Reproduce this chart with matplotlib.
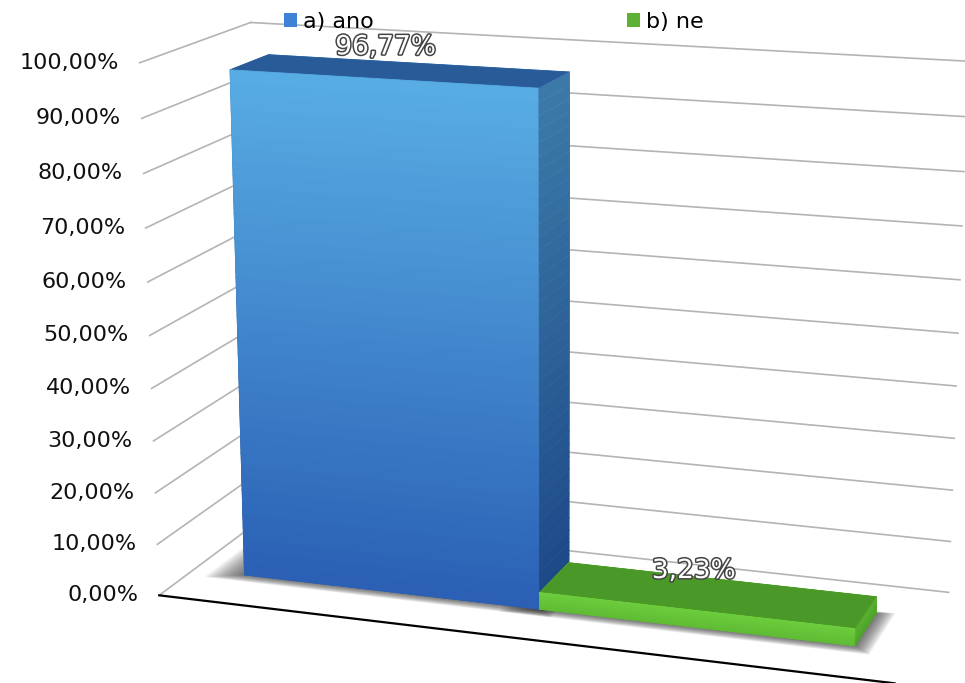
import numpy as np
import matplotlib
matplotlib.use("Agg")
import matplotlib.pyplot as plt
from matplotlib.patches import Patch
from matplotlib.colors import to_rgb
import matplotlib.patheffects as pe
from mpl_toolkits.mplot3d import proj3d

categories = ["a) ano", "b) ne"]
values = [96.77, 3.23]
value_labels = ["96,77%", "3,23%"]
ticks = [0, 10, 20, 30, 40, 50, 60, 70, 80, 90, 100]
tick_labels = ["0,00%", "10,00%", "20,00%", "30,00%", "40,00%", "50,00%",
               "60,00%", "70,00%", "80,00%", "90,00%", "100,00%"]

legend_colors = ["#3d82d6", "#5cb034"]
front_top = ["#58ade4", "#6ccc3c"]
front_bot = ["#2a5fb4", "#5fbb34"]
side_top = ["#3d7aa8", "#55a82e"]
side_bot = ["#1d4786", "#4a9a2a"]
top_col = ["#295b98", "#4a9828"]

plt.rcParams['font.family'] = ['DejaVu Sans']

fig = plt.figure(figsize=(9.65, 6.83), dpi=100)
ax = fig.add_axes([0.065, -0.003, 1.0, 1.0], projection='3d')
ax.set_proj_type('persp', focal_length=0.8)
ax.view_init(elev=15, azim=-71.6)
ax.set_box_aspect((1, 0.345, 0.72), zoom=1.39)
ax.set_xlim(0, 2)
ax.set_ylim(0, 1)
ax.set_zlim(0, 100)
ax.set_xticks([]); ax.set_yticks([]); ax.set_zticks([])
ax.set_axis_off()
for t in (ax.xaxis.label, ax.yaxis.label, ax.zaxis.label,
          ax.xaxis.offsetText, ax.yaxis.offsetText, ax.zaxis.offsetText,
          ax.title, ax._left_title, ax._right_title):
    t.set_visible(False)
ax.computed_zorder = False
M = ax.get_proj()


def to2d(x, y, z):
    xs, ys, _ = proj3d.proj_transform(x, y, z, M)
    return float(xs), float(ys)


# walls: gridlines
for t in ticks:
    ax.plot([0, 0], [0, 1], [t, t], color="#b4b4b4", lw=1.2, zorder=1, clip_on=False)
    ax.plot([0, 2], [1, 1], [t, t], color="#b4b4b4", lw=1.2, zorder=1, clip_on=False)
# floor front edge
ax.plot([0, 2], [0, 0], [0, 0], color="black", lw=1.6, zorder=2, clip_on=False)

for t, lab in zip(ticks, tick_labels):
    ax.annotate(lab, xy=to2d(0, 0, t), xycoords='data', xytext=(-15, 0),
                textcoords='offset points', ha='right', va='center',
                fontsize=16, color="#111111", zorder=10, annotation_clip=False)

bar_w = 0.85
bar_d = 0.36
y0 = 0.32
n_sl = 40

# soft shadows on the floor
for i, v in enumerate(values):
    x0 = (1 - bar_w) + i * bar_w
    for k in range(12):
        e = 0.005 * (k + 1)
        ax.bar3d(x0 - e * 1.6, y0 - e * 1.2, 0, bar_w + e * 2.4, bar_d + e * 1.6, 0.01,
                 color=(0.2, 0.2, 0.2, 0.04), shade=False, edgecolor='none',
                 linewidth=0, zorder=2.5, clip_on=False)

for i, v in enumerate(values):
    x0 = (1 - bar_w) + i * bar_w
    edges = np.linspace(0, v, n_sl + 1)
    ft, fb = np.array(to_rgb(front_top[i])), np.array(to_rgb(front_bot[i]))
    st, sb = np.array(to_rgb(side_top[i])), np.array(to_rgb(side_bot[i]))
    for k in range(n_sl):
        f = (k + 0.5) / n_sl
        fc = tuple(fb + (ft - fb) * f)
        sc = tuple(sb + (st - sb) * f)
        cols = [fc, top_col[i] if k == n_sl - 1 else fc, fc, fc, sc, sc]
        ax.bar3d(x0, y0, edges[k], bar_w, bar_d, edges[k + 1] - edges[k],
                 color=cols, edgecolor=cols, linewidth=0.6, shade=False,
                 zorder=3 + k * 0.001 + i, clip_on=False)

for i, (v, lab) in enumerate(zip(values, value_labels)):
    xc = (1 - bar_w) + i * bar_w + bar_w / 2
    ax.annotate(lab, xy=to2d(xc, y0 + bar_d / 2, v), xycoords='data',
                xytext=(-10, 17), textcoords='offset points',
                ha='center', va='center', fontsize=19, color="white", zorder=20,
                annotation_clip=False,
                path_effects=[pe.withStroke(linewidth=2.2, foreground="#444444")])

handles = [Patch(facecolor=c, edgecolor='none') for c in legend_colors]
fig.legend(handles, categories, loc='upper left', bbox_to_anchor=(0.274, 1.012),
           ncol=2, frameon=False, fontsize=16, handlelength=0.55, handleheight=0.55,
           columnspacing=11.4, handletextpad=0.3)

fig.savefig("out.png", dpi=100)
